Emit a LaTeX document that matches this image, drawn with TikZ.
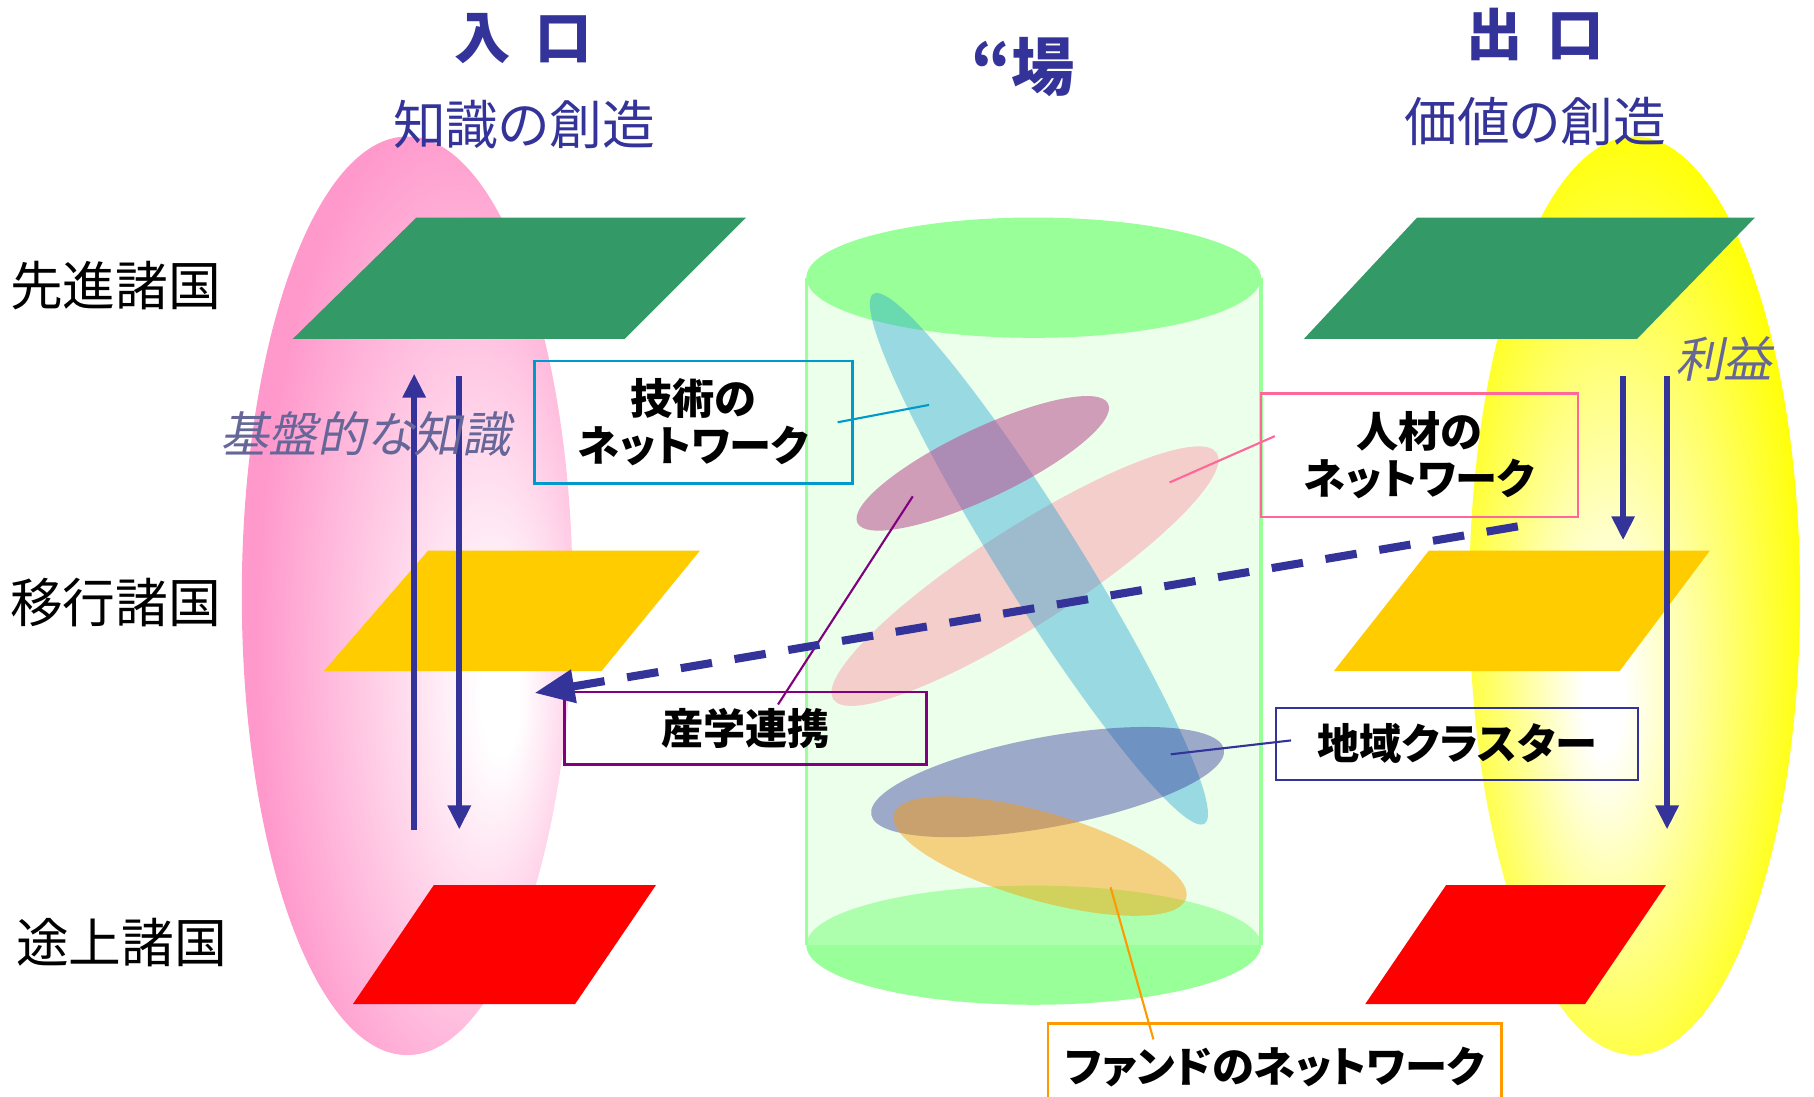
\documentclass[tikz,border=0pt]{standalone}
\usepackage{fontspec}
\setmainfont{Noto Sans CJK JP}[RawFeature=+palt]
\newfontfamily\slantfont{Noto Sans CJK JP}[FakeSlant=0.2,RawFeature=+palt]
\usetikzlibrary{arrows.meta,calc}

\definecolor{titleblue}{HTML}{333399}
\definecolor{notec}{HTML}{666699}
\definecolor{greenc}{HTML}{339966}
\definecolor{goldc}{HTML}{FFCC00}
\definecolor{redc}{HTML}{FF0000}
\definecolor{pinkc}{HTML}{FF99CC}
\definecolor{yellowc}{HTML}{FFFF00}
\definecolor{cylgreen}{HTML}{99FF99}
\definecolor{cylbody}{HTML}{CCFFCC}
\definecolor{techc}{HTML}{0099CC}
\definecolor{jinzaic}{HTML}{FF6699}
\definecolor{sangakuc}{HTML}{800080}
\definecolor{chiikic}{HTML}{333399}
\definecolor{fundc}{HTML}{FF9900}
\definecolor{blobpink}{HTML}{FF8CA0}

\pgfdeclareradialshading{pinkglow}{\pgfpoint{15bp}{-6bp}}{color(0bp)=(white); color(3bp)=(white); color(29bp)=(pinkc); color(50bp)=(pinkc)}
\pgfdeclareradialshading{yellowglow}{\pgfpoint{-5bp}{-6bp}}{color(0bp)=(white); color(3bp)=(white); color(29bp)=(yellowc); color(50bp)=(yellowc)}

\newcommand{\unitpx}{0.011569cm}

\tikzset{
  flow/.style={titleblue, line width=1.7pt, -{Triangle[length=0.24cm,width=0.22cm]}},
  netbox/.style={draw, line width=0.7pt, inner sep=0pt, align=center,
    font=\fontsize{12pt}{13.5pt}\selectfont\bfseries},
  leader/.style={line width=0.6pt},
  side/.style={font=\fontsize{15pt}{18pt}\selectfont},
  head/.style={titleblue, font=\fontsize{16pt}{19pt}\selectfont\bfseries},
  sub/.style={titleblue, font=\fontsize{15pt}{18pt}\selectfont},
  note/.style={notec, font=\fontsize{13.8pt}{17pt}\slantfont}
}

\begin{document}
\begin{tikzpicture}[x=\unitpx, y=-\unitpx]
\useasboundingbox (0,0) rectangle (1568,948);
\clip (0,0) rectangle (1568,948);

% entrance and exit
\shade[shading=pinkglow] (352,515) ellipse [x radius=143, y radius=397];
\shade[shading=yellowglow] (1413,515) ellipse [x radius=143, y radius=397];

% the cylinder
\fill[cylgreen] (893.5,817) ellipse [x radius=196.5, y radius=51.5];
\fill[cylbody, fill opacity=.4] (697,240) rectangle (1090,817);
\draw[cylgreen, line width=0.9pt] (697,240) -- (697,817) (1090,240) -- (1090,817);
\fill[cylgreen] (893.5,240) ellipse [x radius=196.5, y radius=52];

\fill[blobpink, fill opacity=.42, rotate around={32.7:(886,498)}] (886,498) ellipse [x radius=197, y radius=42];
\fill[cyan!70!teal, fill opacity=.4, rotate around={-58:(898,483)}] (898,483) ellipse [x radius=270, y radius=35];
\fill[violet!50!purple!70, fill opacity=.55, rotate around={25.4:(849.5,400.5)}] (849.5,400.5) ellipse [x radius=120, y radius=30];
\fill[titleblue, fill opacity=.42, rotate around={10.5:(905.5,676)}] (905.5,676) ellipse [x radius=155, y radius=39];
\fill[orange!80!yellow, fill opacity=.45, rotate around={-16.1:(899,740)}] (899,740) ellipse [x radius=131.5, y radius=38];

% countries, left
\fill[greenc] (360,188) -- (645,188) -- (540,293) -- (253,293) -- cycle;
\fill[goldc] (370,476) -- (605,476) -- (520,580) -- (280,580) -- cycle;
\fill[redc] (375,765) -- (567,765) -- (497,868) -- (305,868) -- cycle;

% countries, right
\fill[greenc] (1225,188) -- (1517,188) -- (1415,293) -- (1127,293) -- cycle;
\fill[goldc] (1235,476) -- (1478,476) -- (1400,580) -- (1153,580) -- cycle;
\fill[redc] (1250,765) -- (1440,765) -- (1370,868) -- (1180,868) -- cycle;

\coordinate (upBot) at (358,717);
\coordinate (upTop) at (358,323);
\coordinate (downTop) at (397,325);
\coordinate (downBot) at (397,717);
\coordinate (profTop) at (1403,325);
\coordinate (profBot) at (1403,467);
\coordinate (longTop) at (1441,325);
\coordinate (longBot) at (1441,717);
\draw[flow] (upBot) -- (upTop);
\draw[flow] (downTop) -- (downBot);
\draw[flow] (profTop) -- (profBot);
\draw[flow] (longTop) -- (longBot);

% network boxes
\node[netbox, draw=techc, minimum width=275*\unitpx, minimum height=106*\unitpx] (tech) at (599.5,365) {技術の\\ネットワーク};
\node[netbox, draw=jinzaic, minimum width=274*\unitpx, minimum height=107*\unitpx] (jinzai) at (1227,393.5) {人材の\\ネットワーク};
\node[netbox, draw=sangakuc, minimum width=313*\unitpx, minimum height=63*\unitpx] (sangaku) at (644.5,629.5) {産学連携};
\node[netbox, draw=chiikic, minimum width=313*\unitpx, minimum height=62*\unitpx] (chiiki) at (1259.5,643) {地域クラスター};
\node[netbox, draw=fundc, minimum width=392*\unitpx, minimum height=75*\unitpx] (fund) at (1102,922) {ファンドのネットワーク};

\coordinate (techPt) at (803,350);
\coordinate (jinzaiPt) at (1011,417);
\coordinate (sangakuPt) at (789,429);
\coordinate (chiikiPt) at (1012,652);
\coordinate (fundPt) at (960,767);
\draw[leader, techc] ($(tech.east)+(-14,0)$) -- (techPt);
\draw[leader, jinzaic] ($(jinzai.west)+(13,-16.5)$) -- (jinzaiPt);
\draw[leader, sangakuc] ($(sangaku.north)+(28,12)$) -- (sangakuPt);
\draw[leader, chiikic] ($(chiiki.west)+(14,-3)$) -- (chiikiPt);
\draw[leader, fundc] ($(fund.north)+(-105,15)$) -- (fundPt);

\coordinate (dashStart) at (1312,455);
\coordinate (dashEnd) at (462,599);
\draw[titleblue, line width=2.3pt, dash pattern=on 9pt off 6.5pt, -{Triangle[length=0.4cm,width=0.32cm]}] (dashStart) -- (dashEnd);

% titles and labels
\node[head] (iriguchi) at (452,33) {入\hspace{0.45em}口};
\node[sub] (chishiki) at (453,108) {知識の創造};
\node[titleblue, font=\fontsize{18pt}{21pt}\selectfont\bfseries] (ba) at (884,58) {“場};
\node[head] (deguchi) at (1327,30) {出\hspace{0.45em}口};
\node[sub] (kachi) at (1327,105) {価値の創造};

\node[side] (senshin) at (100,247) {先進諸国};
\node[side] (ikou) at (100,521) {移行諸国};
\node[side] (tojou) at (105,815) {途上諸国};

\node[note] (kiban) at (316,375) {基盤的な知識};
\node[note] (rieki) at (1490,310) {利益};
\end{tikzpicture}
\end{document}
